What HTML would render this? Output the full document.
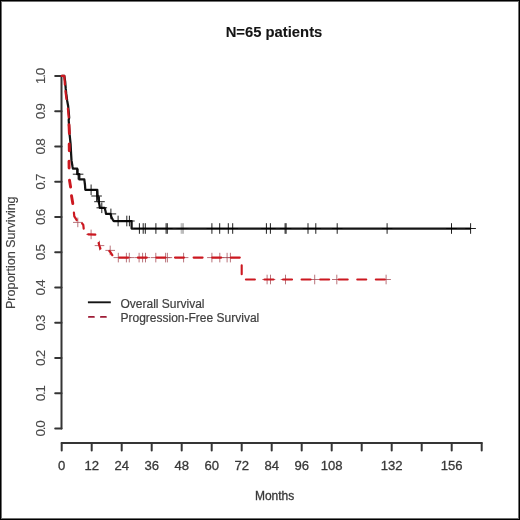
<!DOCTYPE html><html><head><meta charset="utf-8"><style>html,body{margin:0;padding:0;background:#fff}#f{position:relative;width:520px;height:520px;overflow:hidden;background:#fff;filter:blur(0.5px)}#b{position:absolute;left:0;top:0;width:518px;height:518px;border:1px solid #000;box-shadow:inset 0 0 0 1px #707070}svg{position:absolute;left:0;top:0}text{font-family:"Liberation Sans",Arial,sans-serif;fill:#383838;stroke:#383838;stroke-width:0.3px}</style></head><body><div id="f"><svg width="520" height="520" viewBox="0 0 520 520"><text x="274" y="37.2" font-size="14.8" font-weight="bold" text-anchor="middle" style="fill:#141414;stroke:#141414;stroke-width:0.1px">N=65 patients</text><g stroke="#353535" stroke-width="2" fill="none" stroke-linecap="round" stroke-linejoin="round"><path d="M61.5,428.5V75.9"/><path d="M55.2,428.5H61.5"/><path d="M55.2,393.2H61.5"/><path d="M55.2,358.0H61.5"/><path d="M55.2,322.7H61.5"/><path d="M55.2,287.5H61.5"/><path d="M55.2,252.2H61.5"/><path d="M55.2,216.9H61.5"/><path d="M55.2,181.7H61.5"/><path d="M55.2,146.4H61.5"/><path d="M55.2,111.2H61.5"/><path d="M55.2,75.9H61.5"/><path d="M61.7,443H481.7"/><path d="M61.7,443V450.4"/><path d="M91.7,443V450.4"/><path d="M121.7,443V450.4"/><path d="M151.7,443V450.4"/><path d="M181.7,443V450.4"/><path d="M211.7,443V450.4"/><path d="M241.7,443V450.4"/><path d="M271.7,443V450.4"/><path d="M301.7,443V450.4"/><path d="M331.7,443V450.4"/><path d="M361.7,443V450.4"/><path d="M391.7,443V450.4"/><path d="M421.7,443V450.4"/><path d="M451.7,443V450.4"/><path d="M481.7,443V450.4"/></g><text transform="translate(44.8,429.1) rotate(-90)" font-size="13.4" letter-spacing="-1.2" text-anchor="middle" style="fill:#4a4a4a;stroke:#4a4a4a;stroke-width:0.12px">0.0</text><text transform="translate(44.8,393.8) rotate(-90)" font-size="13.4" letter-spacing="-1.2" text-anchor="middle" style="fill:#4a4a4a;stroke:#4a4a4a;stroke-width:0.12px">0.1</text><text transform="translate(44.8,358.6) rotate(-90)" font-size="13.4" letter-spacing="-1.2" text-anchor="middle" style="fill:#4a4a4a;stroke:#4a4a4a;stroke-width:0.12px">0.2</text><text transform="translate(44.8,323.3) rotate(-90)" font-size="13.4" letter-spacing="-1.2" text-anchor="middle" style="fill:#4a4a4a;stroke:#4a4a4a;stroke-width:0.12px">0.3</text><text transform="translate(44.8,288.1) rotate(-90)" font-size="13.4" letter-spacing="-1.2" text-anchor="middle" style="fill:#4a4a4a;stroke:#4a4a4a;stroke-width:0.12px">0.4</text><text transform="translate(44.8,252.8) rotate(-90)" font-size="13.4" letter-spacing="-1.2" text-anchor="middle" style="fill:#4a4a4a;stroke:#4a4a4a;stroke-width:0.12px">0.5</text><text transform="translate(44.8,217.5) rotate(-90)" font-size="13.4" letter-spacing="-1.2" text-anchor="middle" style="fill:#4a4a4a;stroke:#4a4a4a;stroke-width:0.12px">0.6</text><text transform="translate(44.8,182.3) rotate(-90)" font-size="13.4" letter-spacing="-1.2" text-anchor="middle" style="fill:#4a4a4a;stroke:#4a4a4a;stroke-width:0.12px">0.7</text><text transform="translate(44.8,147.0) rotate(-90)" font-size="13.4" letter-spacing="-1.2" text-anchor="middle" style="fill:#4a4a4a;stroke:#4a4a4a;stroke-width:0.12px">0.8</text><text transform="translate(44.8,111.8) rotate(-90)" font-size="13.4" letter-spacing="-1.2" text-anchor="middle" style="fill:#4a4a4a;stroke:#4a4a4a;stroke-width:0.12px">0.9</text><text transform="translate(44.8,76.5) rotate(-90)" font-size="13.4" letter-spacing="-1.2" text-anchor="middle" style="fill:#4a4a4a;stroke:#4a4a4a;stroke-width:0.12px">1.0</text><text x="61.7" y="470" font-size="13.1" text-anchor="middle">0</text><text x="91.7" y="470" font-size="13.1" text-anchor="middle">12</text><text x="121.7" y="470" font-size="13.1" text-anchor="middle">24</text><text x="151.7" y="470" font-size="13.1" text-anchor="middle">36</text><text x="181.7" y="470" font-size="13.1" text-anchor="middle">48</text><text x="211.7" y="470" font-size="13.1" text-anchor="middle">60</text><text x="241.7" y="470" font-size="13.1" text-anchor="middle">72</text><text x="271.7" y="470" font-size="13.1" text-anchor="middle">84</text><text x="301.7" y="470" font-size="13.1" text-anchor="middle">96</text><text x="331.7" y="470" font-size="13.1" text-anchor="middle">108</text><text x="391.7" y="470" font-size="13.1" text-anchor="middle">132</text><text x="451.7" y="470" font-size="13.1" text-anchor="middle">156</text><text x="274.6" y="499.6" font-size="12" text-anchor="middle">Months</text><text transform="translate(15.2,252.7) rotate(-90)" font-size="12.5" text-anchor="middle" style="fill:#444;stroke:#444;stroke-width:0.15px">Proportion Surviving</text><path d="M87.9,302.3H110.8" stroke="#141414" stroke-width="1.9" fill="none"/><path d="M88.9,316.9H110.8" stroke="#9e1c36" stroke-width="1.9" fill="none" stroke-dasharray="5 7" stroke-linecap="round"/><text x="120.5" y="307.8" font-size="12" style="fill:#404040;stroke:#404040;stroke-width:0.2px">Overall Survival</text><text x="120.5" y="322" font-size="12" style="fill:#404040;stroke:#404040;stroke-width:0.2px">Progression-Free Survival</text><path d="M61.7,75.9 L64.3,75.9 L65.2,81.7 L65.7,88.4 L66.2,93.2 L67.2,100.9 L68.1,105.7 L68.6,110.5 L69.2,117.5 L68.7,120.0 L69.6,134.4 L70.6,144.0 L71.1,153.7 L71.5,160.4 L72.5,166.5 L72.9,168.6 L77.2,168.6 L77.2,174.2 L79.3,174.2 L79.3,179.4 L84.3,179.4 L85.0,185.0 L85.3,189.8 L97.3,189.8 L97.6,195.5 L98.4,200.6 L99.5,205.2 L99.8,207.8 L104.6,207.8 L105.6,211.5 L106.0,213.9 L110.5,213.9 L111.5,217.3 L112.7,219.6 L113.8,221.0 L131.6,221.0 L131.6,228.6 L470.6,228.6" stroke="#141414" stroke-width="2.25" fill="none" stroke-linejoin="round"/><path d="M72.8,174.2h10.6M78.1,168.9v10.6M85.8,189.8h10.6M91.1,184.5v10.6M91.3,196.0h10.6M96.6,190.7v10.6M94.2,201.7h10.6M99.5,196.4v10.6M96.5,207.8h10.6M101.8,202.5v10.6M105.6,213.9h10.6M110.9,208.6v10.6M112.8,221.0h10.6M118.1,215.7v10.6M121.5,221.0h10.6M126.8,215.7v10.6M124.1,221.0h10.6M129.4,215.7v10.6M134.1,228.5h10.6M139.4,223.2v10.6M137.9,228.5h10.6M143.2,223.2v10.6M140.0,228.5h10.6M145.3,223.2v10.6M150.6,228.5h10.6M155.9,223.2v10.6M160.8,228.5h10.6M166.1,223.2v10.6M162.0,228.5h10.6M167.3,223.2v10.6M206.6,228.5h10.6M211.9,223.2v10.6M214.4,228.5h10.6M219.7,223.2v10.6M223.0,228.5h10.6M228.3,223.2v10.6M227.4,228.5h10.6M232.7,223.2v10.6M261.1,228.5h10.6M266.4,223.2v10.6M265.1,228.5h10.6M270.4,223.2v10.6M279.8,228.5h10.6M285.1,223.2v10.6M280.8,228.5h10.6M286.1,223.2v10.6M302.7,228.5h10.6M308.0,223.2v10.6M310.5,228.5h10.6M315.8,223.2v10.6M331.9,228.5h10.6M337.2,223.2v10.6M381.8,228.5h10.6M387.1,223.2v10.6M446.2,228.5h10.6M451.5,223.2v10.6M465.3,228.5h10.6M470.6,223.2v10.6" stroke="#000" stroke-width="1" fill="none" opacity="0.88"/><path d="M175.9,228.5h10.6M181.2,223.2v10.6M177.0,228.5h10.6M182.3,223.2v10.6M178.1,228.5h10.6M183.4,223.2v10.6" stroke="#000" stroke-width="1" fill="none" opacity="0.3"/><path d="M73.0,222.4h9.6M77.8,217.6v9.6M86.3,234.4h9.6M91.1,229.6v9.6M94.7,245.6h9.6M99.5,240.8v9.6M105.4,250.4h9.6M110.2,245.6v9.6M113.5,257.6h9.6M118.3,252.8v9.6M121.6,257.6h9.6M126.4,252.8v9.6M124.5,257.6h9.6M129.3,252.8v9.6M134.3,257.6h9.6M139.1,252.8v9.6M137.8,257.6h9.6M142.6,252.8v9.6M140.7,257.6h9.6M145.5,252.8v9.6M151.0,257.6h9.6M155.8,252.8v9.6M160.8,257.6h9.6M165.6,252.8v9.6M162.6,257.6h9.6M167.4,252.8v9.6M178.8,257.6h9.6M183.6,252.8v9.6M207.1,257.6h9.6M211.9,252.8v9.6M215.0,257.6h9.6M219.8,252.8v9.6M222.3,257.6h9.6M227.1,252.8v9.6M225.6,257.6h9.6M230.4,252.8v9.6M262.3,279.5h9.6M267.1,274.7v9.6M265.7,279.5h9.6M270.5,274.7v9.6M280.7,279.5h9.6M285.5,274.7v9.6M309.9,279.5h9.6M314.7,274.7v9.6M332.0,279.5h9.6M336.8,274.7v9.6M381.3,279.5h9.6M386.1,274.7v9.6" stroke="#a8505a" stroke-width="1" fill="none" opacity="0.8"/><path d="M61.7,75.9 L64.3,75.9 L64.7,81.7 L64.9,84.6M65.5,91.2 L65.7,93.2 L66.5,99.1M67.9,108.6 L68.1,110.5 L68.7,117.3M73.9,212.6 L74.3,216.3 L75.8,218.7 L76.7,220.1M82.1,223.4 L83.3,225.0 L83.7,228.7M88.2,234.3 L95.3,234.6M98.6,243.0 L99.5,246.0 L100.4,248.7M109.3,251.0 L110.5,252.3 L112.3,255.2" stroke="#cc1820" stroke-width="2.2" fill="none" stroke-linecap="round" stroke-linejoin="round"/><path d="M69.0,124.7 L69.4,133.5M69.2,143.9 L69.3,150.8M69.0,161.3 L69.1,168.1M69.5,180.3 L70.6,187.1M71.5,195.7 L72.8,203.5" stroke="#cc1820" stroke-width="2.9" fill="none" stroke-linecap="round" stroke-linejoin="round"/><path d="M115,257.6H241.7V279.5" stroke="#cc1820" stroke-width="2.1" fill="none" stroke-linecap="round" stroke-dasharray="9 9.6" stroke-dashoffset="14.4"/><path d="M241.7,279.5H386" stroke="#cc1820" stroke-width="2.1" fill="none" stroke-linecap="round" stroke-dasharray="9 9.56" stroke-dashoffset="14.36"/></svg><div id="b"></div></div></body></html>
